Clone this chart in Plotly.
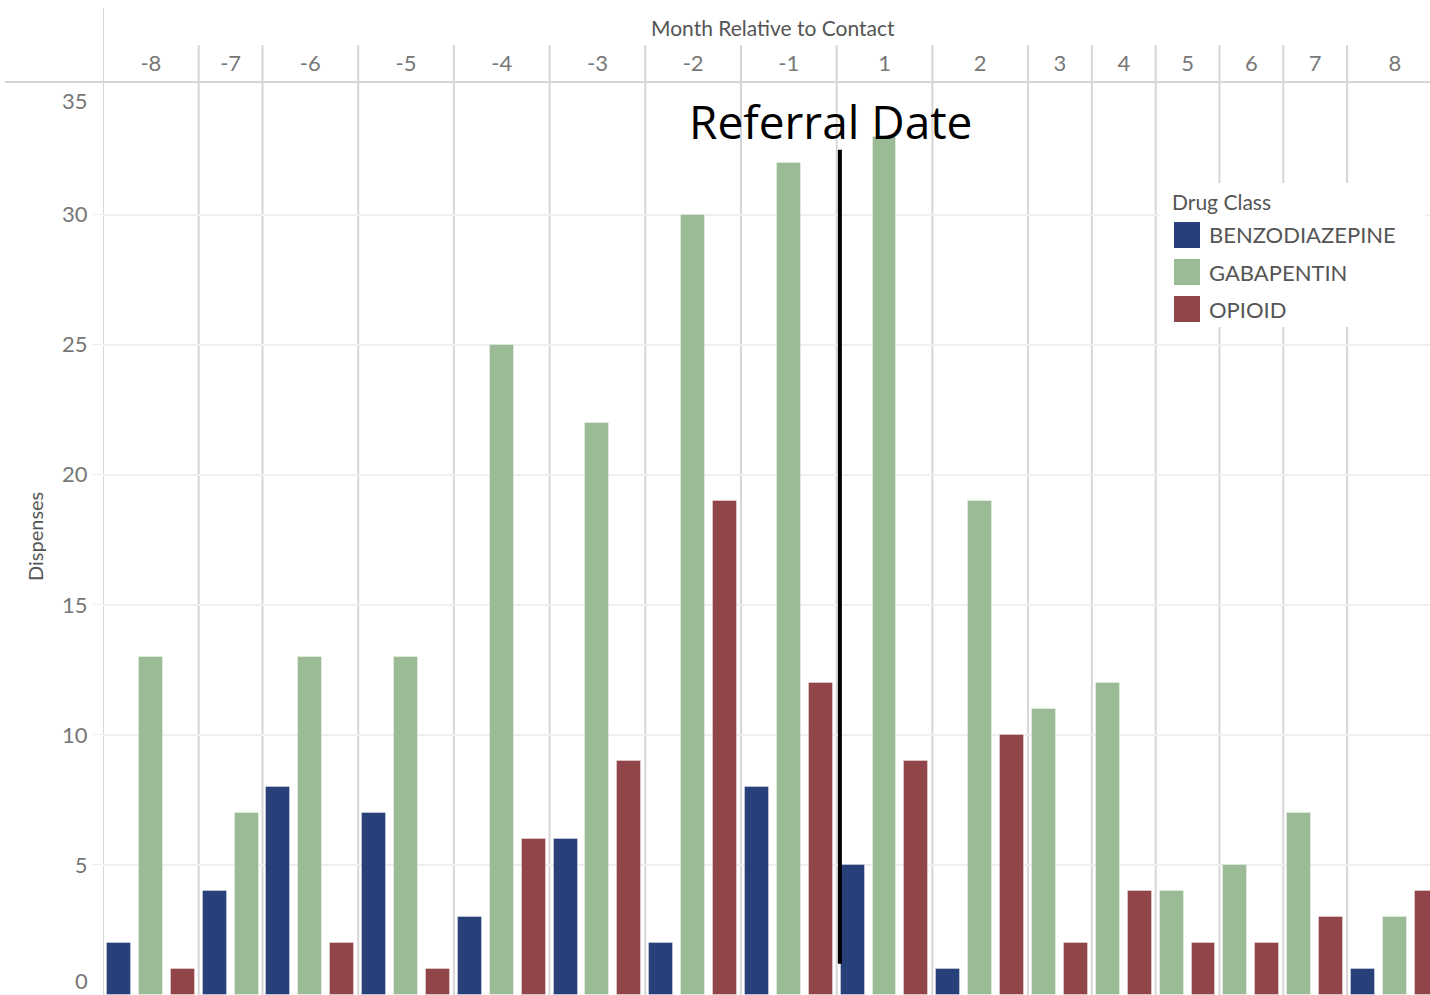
import plotly.graph_objects as go

# --- Data ---
months = [-8, -7, -6, -5, -4, -3, -2, -1, 1, 2, 3, 4, 5, 6, 7, 8]
drug_classes = ["BENZODIAZEPINE", "GABAPENTIN", "OPIOID"]
benzodiazepine = [2, 4, 8, 7, 3, 6, 2, 8, 5, 1, None, None, None, None, None, 1]
gabapentin = [13, 7, 13, 13, 25, 22, 30, 32, 33, 19, 11, 12, 4, 5, 7, 3]
opioid = [1, None, 2, 1, 6, 9, 19, 12, 9, 10, 2, 4, 2, 2, 3, 4]
referral_after_month = -1

colors = {"BENZODIAZEPINE": "#27407a", "GABAPENTIN": "#9abb96", "OPIOID": "#924549"}
series = dict(zip(drug_classes, [benzodiazepine, gabapentin, opioid]))

W, H = 1430, 995
ML, MT = 103, 82
PW, PH = W - ML, H - MT


def px_x(x):
    return (x - ML) / PW


def px_y(y):
    return (H - y) / PH


# --- Lay bars out Tableau style: one slot per drug class present in a month ---
slot_x = {d: [] for d in drug_classes}
slot_y = {d: [] for d in drug_classes}
col_start, col_center = [], []
slot = 0
for i, m in enumerate(months):
    col_start.append(slot - 0.5)
    first = slot
    for d in drug_classes:
        v = series[d][i]
        if v is not None:
            slot_x[d].append(slot)
            slot_y[d].append(v)
            slot += 1
    col_center.append((first + slot - 1) / 2)
referral_x = col_start[months.index(referral_after_month) + 1]

fig = go.Figure()
for d in drug_classes:
    fig.add_trace(go.Bar(
        x=slot_x[d], y=slot_y[d], name=d, width=0.75,
        marker=dict(color=colors[d], line=dict(color="rgba(255,255,255,0.35)", width=1)),
        showlegend=False,
    ))

grey_line = "#d6d6d6"
shapes = []
# column separators (reach up into the header)
for i, xs in enumerate(col_start):
    shapes.append(dict(type="line", xref="x", yref="paper", x0=xs, x1=xs,
                       y0=0, y1=px_y(8) if i == 0 else px_y(45),
                       line=dict(color=grey_line, width=2), layer="below"))
# header bottom rule
shapes.append(dict(type="line", xref="paper", yref="paper", x0=px_x(5), x1=1,
                   y0=1, y1=1, line=dict(color=grey_line, width=2)))
# referral date marker
shapes.append(dict(type="line", xref="x", yref="y", x0=referral_x + 0.1, x1=referral_x + 0.1,
                   y0=1.2, y1=32.5, line=dict(color="black", width=4), layer="above"))
# legend box
shapes.append(dict(type="rect", xref="paper", yref="paper", x0=px_x(1160), x1=px_x(1425),
                   y0=px_y(327), y1=px_y(183), fillcolor="white", line=dict(width=0),
                   layer="above"))

txt = dict(family="Lato", color="#555555")
annotations = [
    dict(text="Month Relative to Contact", xref="paper", yref="paper", x=px_x(773), y=px_y(28),
         xanchor="center", yanchor="middle", showarrow=False, font=dict(txt, size=21)),
    dict(text="Dispenses", xref="paper", yref="paper", x=px_x(35), y=px_y(537), textangle=-90,
         xanchor="center", yanchor="middle", showarrow=False, font=dict(txt, size=20)),
    dict(text="0", xref="paper", yref="y", x=0, y=0, xanchor="right", yanchor="middle",
         xshift=-13, yshift=15, showarrow=False, font=dict(txt, size=22, color="#777777")),
    dict(text="35", xref="paper", yref="y", x=0, y=35, xanchor="right", yanchor="middle",
         xshift=-13, yshift=-16, showarrow=False, font=dict(txt, size=22, color="#777777")),
    dict(text="Referral Date", xref="x", yref="y", x=referral_x, y=33.6, xshift=-6,
         xanchor="center", yanchor="middle", showarrow=False,
         font=dict(family="Open Sans", size=46, color="black")),
    dict(text="Drug Class", xref="paper", yref="paper", x=px_x(1170), y=px_y(202),
         xanchor="left", yanchor="middle", showarrow=False, font=dict(txt, size=21)),
]

# manual legend entries
for k, d in enumerate(drug_classes):
    yc = 235 + 37 * k
    shapes.append(dict(type="rect", xref="paper", yref="paper", x0=px_x(1174), x1=px_x(1200),
                       y0=px_y(yc + 13), y1=px_y(yc - 13), fillcolor=colors[d],
                       line=dict(width=0), layer="above"))
    annotations.append(dict(text=d, xref="paper", yref="paper", x=px_x(1207), y=px_y(yc),
                            xanchor="left", yanchor="middle", showarrow=False,
                            font=dict(txt, size=22)))

fig.update_layout(
    width=W, height=H,
    margin=dict(l=ML, r=0, t=MT, b=0),
    plot_bgcolor="white", paper_bgcolor="white",
    barmode="overlay", bargap=0,
    shapes=shapes, annotations=annotations,
    xaxis=dict(range=[-0.5, 41.1], side="top", tickvals=col_center,
               ticktext=[str(m) for m in months], showgrid=False, zeroline=False,
               ticks="", ticklabelstandoff=6,
               tickfont=dict(family="Lato", size=22, color="#777777"), fixedrange=True),
    yaxis=dict(range=[0, 35.1], tickvals=[5, 10, 15, 20, 25, 30], showgrid=True,
               gridcolor="#efefef", gridwidth=1.5, zeroline=False, ticks="outside", ticklen=10,
               tickcolor="#efefef", tickfont=dict(family="Lato", size=22, color="#777777"),
               fixedrange=True),
)

# drop the default body margin so the figure fills the window exactly
fig.write_html("out.html", config={"displayModeBar": False},
               post_script="document.body.style.margin='0';")
